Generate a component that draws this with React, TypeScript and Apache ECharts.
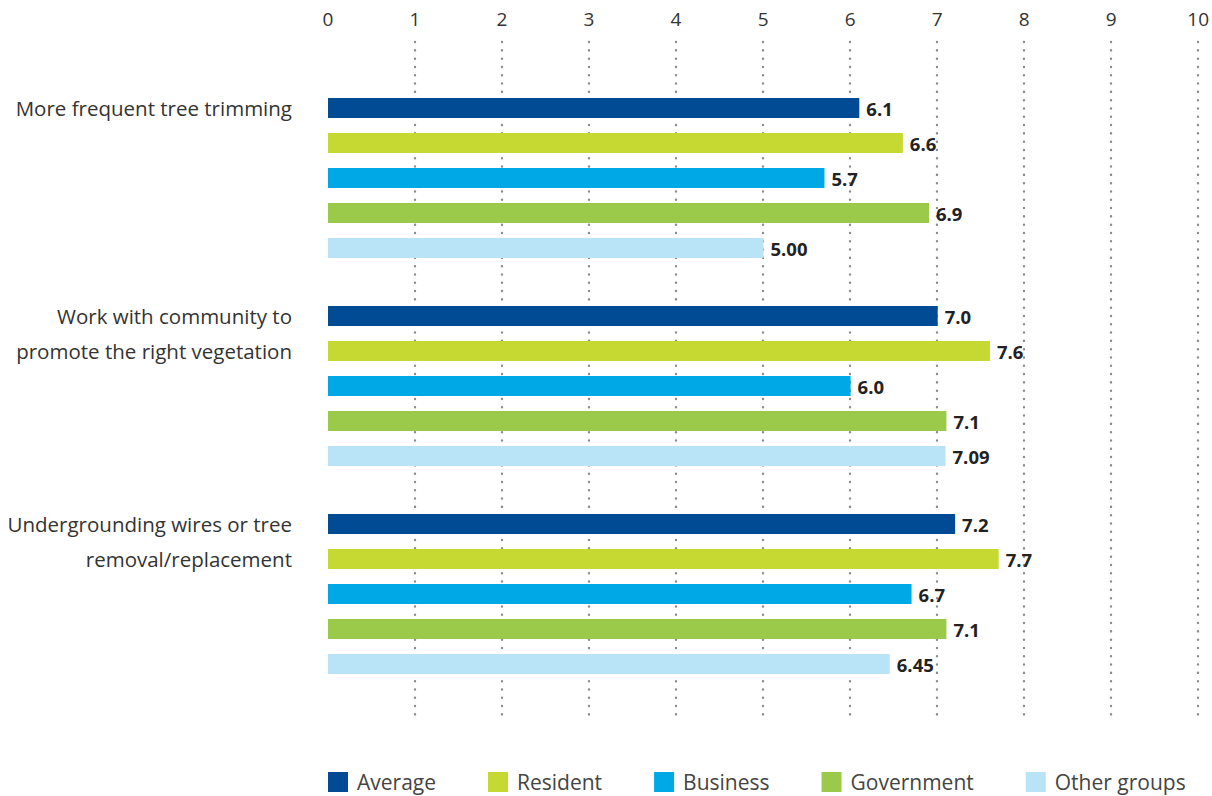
import React, { useEffect, useRef } from "react";
import * as echarts from "echarts";

const categories = [
  "More frequent tree trimming",
  "Work with community to\npromote the right vegetation",
  "Undergrounding wires or tree\nremoval/replacement",
];
const seriesNames = ["Average", "Resident", "Business", "Government", "Other groups"];
const average = [6.1, 7.0, 7.2];
const resident = [6.6, 7.6, 7.7];
const business = [5.7, 6.0, 6.7];
const government = [6.9, 7.1, 7.1];
const otherGroups = [5.0, 7.09, 6.45];
const decimals = [1, 1, 1, 1, 2];
const colors = ["#004b93", "#c5d932", "#00a9e6", "#9bc94a", "#b9e4f8"];
const xTicks = [0, 10, 1];

const FONT = "'Open Sans', 'Noto Sans', sans-serif";

export default function App() {
  const ref = useRef<HTMLDivElement>(null);
  useEffect(() => {
    if (!ref.current) return;
    const chart = echarts.init(ref.current, null, { renderer: "svg" });
    const values = [average, resident, business, government, otherGroups];
    const series = seriesNames.map((name, i) => ({
      name,
      type: "bar",
      xAxisIndex: 1,
      yAxisIndex: 1,
      data: values[i],
      barWidth: 20,
      barGap: "75%",
      itemStyle: { color: colors[i] },
      label: {
        show: true,
        position: "right",
        distance: 7,
        fontFamily: FONT,
        fontWeight: "bold",
        fontSize: 18.5,
        color: "#222222",
        formatter: (p: any) => Number(p.value).toFixed(decimals[i]),
      },
    }));
    chart.setOption({
      animation: false,
      textStyle: { fontFamily: FONT },
      grid: [
        { left: 328, right: 13, top: 42, bottom: 81 },
        { left: 328, right: 13, top: 74, bottom: 98 },
      ],
      xAxis: [
        {
          gridIndex: 0,
          type: "value",
          position: "top",
          min: xTicks[0],
          max: xTicks[1],
          interval: xTicks[2],
          axisLine: { show: false },
          axisTick: { show: false },
          axisLabel: { color: "#333333", fontSize: 19, margin: 14, fontFamily: FONT },
          splitLine: {
            show: true,
            showMinLine: false,
            lineStyle: { color: "#8c8c8c", width: 2.4, type: [0.1, 8.2], cap: "round" },
          },
        },
        {
          gridIndex: 1,
          type: "value",
          min: xTicks[0],
          max: xTicks[1],
          show: false,
          splitLine: { show: false },
        },
      ],
      yAxis: [
        { gridIndex: 0, type: "value", show: false, splitLine: { show: false } },
        {
          gridIndex: 1,
          type: "category",
          inverse: true,
          data: categories,
          axisLine: { show: false },
          axisTick: { show: false },
          axisLabel: {
            color: "#333333",
            fontSize: 20.5,
            fontFamily: FONT,
            margin: 36,
            lineHeight: 35,
            align: "right",
            formatter: (v: string) => {
              const lines = v.split("\n").length;
              return v + "\n ".repeat(5 - lines);
            },
          },
        },
      ],
      legend: {
        data: seriesNames,
        left: 328,
        top: 771,
        padding: 0,
        itemWidth: 20,
        itemHeight: 20,
        itemGap: 52,
        icon: "rect",
        textStyle: {
          color: "#444444",
          fontSize: 21,
          lineHeight: 22,
          fontFamily: FONT,
          padding: [0, 0, 0, 4],
        },
      },
      series,
    });
    return () => chart.dispose();
  }, []);
  return <div ref={ref} style={{ width: 1212, height: 796, position: "absolute", left: 0, top: 0 }} />;
}
